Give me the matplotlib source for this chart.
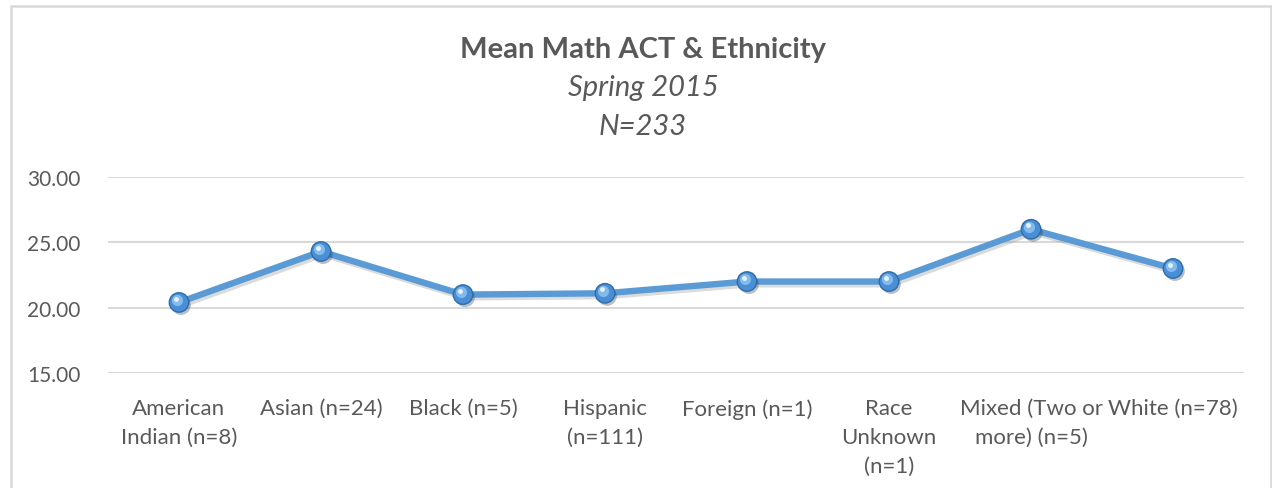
import matplotlib
matplotlib.use("Agg")
import matplotlib.pyplot as plt
import matplotlib.patheffects as pe
from matplotlib.patches import Rectangle
import matplotlib.transforms as mtransforms

categories = ["American\nIndian (n=8)", "Asian (n=24)", "Black (n=5)", "Hispanic\n(n=111)",
              "Foreign (n=1)", "Race\nUnknown\n(n=1)", "Mixed (Two or\nmore) (n=5)", "White (n=78)"]
values = [20.4, 24.3, 21.0, 21.1, 22.0, 22.0, 26.0, 23.0]
yticks = [15, 20, 25, 30]
ytick_labels = ["15.00", "20.00", "25.00", "30.00"]

plt.rcParams['font.family'] = ['Lato', 'DejaVu Sans']
TXT = "#595959"
GRID = "#D9D9D9"
LINE = "#5B9BD5"

fig = plt.figure(figsize=(12.72, 4.89), dpi=100)
W, H = 1272, 489

# outer chart frame
fig.patches.append(Rectangle((11 / W, -0.1), (1271 - 11) / W, 1.1 - 7 / H,
                             transform=fig.transFigure, fill=False,
                             edgecolor=GRID, linewidth=1.8))

ax = fig.add_axes([108 / W, 1 - 374 / H, (1244 - 108) / W, (374 - 178) / H])
x = list(range(len(categories)))
ax.plot(x, values, color=LINE, linewidth=4.6, solid_capstyle='round', zorder=3,
        path_effects=[pe.SimpleLineShadow(offset=(1.5, -2), shadow_color='#888888', alpha=0.3),
                      pe.Normal()])
ax.plot(x, values, linestyle='none', marker='o', markersize=14, markerfacecolor='#4A8FD6',
        markeredgecolor='#2E6DA8', markeredgewidth=1.0, zorder=4,
        path_effects=[pe.SimplePatchShadow(offset=(1.5, -2), alpha=0.3), pe.Normal()])
off = mtransforms.offset_copy(ax.transData, fig=fig, x=-1.2, y=1.6, units='points')
ax.plot(x, values, linestyle='none', marker='o', markersize=8, markerfacecolor='#8EC3F0',
        markeredgecolor='none', alpha=0.85, transform=off, zorder=5)
off2 = mtransforms.offset_copy(ax.transData, fig=fig, x=-2.0, y=2.8, units='points')
ax.plot(x, values, linestyle='none', marker='o', markersize=3.5, markerfacecolor='#E6F3FF',
        markeredgecolor='none', transform=off2, zorder=6)

ax.set_xlim(-0.5, len(categories) - 0.5)
ax.set_ylim(15, 30)
ax.set_yticks(yticks)
ax.set_yticklabels(ytick_labels)
ax.set_xticks(x)
ax.set_xticklabels(categories, linespacing=1.55)
ax.grid(axis='y', color=GRID, linewidth=1.5)
ax.set_axisbelow(True)
for s in ax.spines.values():
    s.set_visible(False)
ax.tick_params(axis='y', length=0, colors=TXT, labelsize=15, pad=20)
ax.tick_params(axis='x', length=0, colors=TXT, labelsize=16, pad=18)

fig.text(643 / W, 1 - 50 / H, "Mean Math ACT & Ethnicity", ha='center', va='center',
         fontsize=21, fontweight='bold', color=TXT)
fig.text(643 / W, 1 - 88 / H, "Spring 2015", ha='center', va='center',
         fontsize=21, fontstyle='italic', color=TXT)
fig.text(643 / W, 1 - 127 / H, "N=233", ha='center', va='center',
         fontsize=21, fontstyle='italic', color=TXT)

fig.savefig("out.png", dpi=100)
